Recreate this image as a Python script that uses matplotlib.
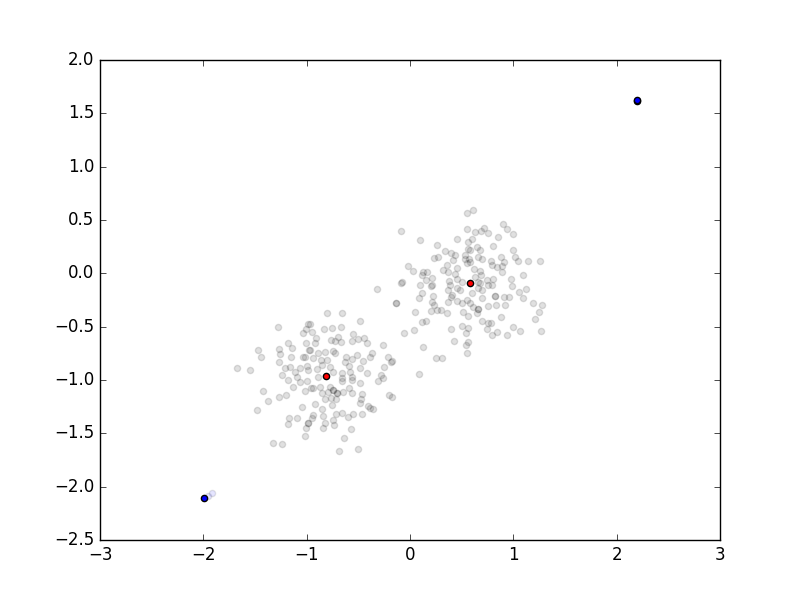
import matplotlib
matplotlib.use('Agg')
import matplotlib.pyplot as plt
import numpy as np

# cluster points (x, y)
cluster_a_x = [
    -1.275, -0.984, -1.006, -1.033, -0.946, -1.178, -1.009, -1.468, -1.265, -1.145,
    -1.442, -1.258, -1.155, -1.038, -0.977, -1.268, -1.671, -1.548, -1.161, -1.000,
    -1.210, -1.065, -1.113, -1.236, -1.096, -0.984,
    -0.135, -0.800, -0.655, -0.484, -0.968, -0.829, -0.752, -0.668, -0.913, -0.919,
    -0.549, -0.694, -0.767, -0.726, -0.671, -0.564, -0.506, -0.442, -0.419, -0.264,
    -0.968, -0.887, -0.823, -0.742, -0.726, -0.622, -0.516, -0.371, -0.387, -0.936,
    -0.864, -0.807, -0.629, -0.558, -0.452, -0.210, -0.187, -0.849, -0.774, -0.587,
    -0.484, -0.252, -0.897, -0.742, -0.661, -0.581, -0.419, -0.284, -0.887, -0.655,
    -0.564,
    -1.426, -1.371, -1.265, -1.200, -1.478, -1.178, -1.129, -1.065, -1.000, -1.016,
    -0.958, -1.042, -1.168, -1.091, -1.178, -0.984, -1.006, -0.936, -1.016, -1.329,
    -1.236,
    -0.661, -0.564, -0.484, -0.307, -0.258, -0.936, -0.871, -0.774, -0.855, -0.790,
    -0.748, -0.710, -0.645, -0.587, -0.564, -0.468, -0.823, -0.767, -0.716, -0.477,
    -0.203, -0.177, -0.752, -0.919, -0.484, -0.404, -0.387, -0.355, -0.855, -0.839,
    -0.716, -0.661, -0.597, -0.548, -0.468, -0.951, -0.742, -0.823, -0.735, -0.839,
    -0.571, -0.636, -0.684, -0.506, -0.320, -0.748, -0.710, -1.016, -0.984,
]
cluster_a_y = [
    -0.506, -0.478, -0.522, -0.562, -0.547, -0.656, -0.656, -0.722, -0.712, -0.703,
    -0.782, -0.757, -0.782, -0.788, -0.719, -0.832, -0.891, -0.906, -0.876, -0.869,
    -0.891, -0.891, -0.923, -0.953, -0.969, -0.906,
    -0.281, -0.375, -0.375, -0.447, -0.475, -0.525, -0.516, -0.503, -0.609, -0.650,
    -0.569, -0.594, -0.625, -0.632, -0.641, -0.635, -0.616, -0.609, -0.650, -0.672,
    -0.719, -0.750, -0.741, -0.726, -0.750, -0.782, -0.766, -0.744, -0.788, -0.797,
    -0.813, -0.813, -0.829, -0.806, -0.819, -0.788, -0.829, -0.860, -0.876, -0.869,
    -0.891, -0.876, -0.897, -0.923, -0.938, -0.923, -0.932, -0.953, -0.975, -0.984,
    -0.975,
    -1.100, -1.194, -1.157, -1.141, -1.282, -1.000, -1.069, -1.016, -1.010, -1.103,
    -1.072, -1.250, -1.360, -1.360, -1.410, -1.406, -1.447, -1.328, -1.522, -1.594,
    -1.603,
    -1.010, -1.000, -1.031, -1.010, -0.979, -1.072, -1.069, -1.063, -1.125, -1.110,
    -1.094, -1.125, -1.110, -1.072, -1.125, -1.132, -1.178, -1.166, -1.178, -1.178,
    -1.141, -1.157, -1.235, -1.228, -1.219, -1.241, -1.266, -1.275, -1.275, -1.335,
    -1.319, -1.313, -1.344, -1.322, -1.322, -1.360, -1.375, -1.406, -1.422, -1.453,
    -1.460, -1.547, -1.666, -1.647, -0.150, -1.094, -1.125, -0.788, -1.406,
]

cluster_b_x = [
    0.549, -0.087, 0.097, 0.264, 0.452, 0.555, 0.339, 0.397, 0.435, 0.419,
    0.232, 0.274, 0.532, 0.564, -0.016, 0.026, 0.129, 0.161, 0.316, 0.355,
    0.371, 0.458, 0.549, 0.113, 0.210, 0.155, -0.075, 0.381, 0.435, 0.458,
    0.500, 0.097, 0.210,
    0.613, 0.903, 0.935, 1.000, 0.719, 0.629, 0.687, 0.752, 0.855, 0.564,
    0.603, 0.806, 0.645, 0.677, 0.581, 0.532, 0.571, 0.581, 0.661, 0.700,
    0.784, 0.881, 0.913, 0.994, 1.016, 1.042, 1.145, 1.255, 0.797, 0.839,
    0.893, 0.622, 0.677, 0.893, 1.097, 0.629, 0.687, 0.742, 0.806, 0.977,
    0.661,
    0.203, 0.113, 0.226, 0.090, -0.135, 0.048, 0.210, 0.235, 0.203, 0.258,
    0.300, 0.361, 0.113, 0.152, -0.055, 0.042, 0.397, 0.500, 0.129, 0.426,
    0.542, 0.564, 0.542, -0.177, 0.248, 0.306, 0.387, 0.452, 0.371, 0.403,
    0.484, 0.371, 0.452, 0.500, 0.397, 0.510, 0.564, 0.555, 0.087, -0.085,
    0.677, 0.752, 0.790, 0.984, 0.661, 0.603, 0.694, 0.823, 0.913, 0.961,
    1.055, 1.123, 1.097, 0.700, 0.549, 0.581, 0.613, 0.661, 0.758, 0.829,
    0.919, 1.193, 1.281, 1.248, 0.645, 0.881, 1.210, 0.700, 0.752, 0.784,
    0.564, 0.742, 1.000, 1.065, 1.268, 0.845, 0.797, 0.935, 0.823, 0.661,
]
cluster_b_y = [
    0.562, 0.397, 0.312, 0.265, 0.319, 0.412, 0.209, 0.187, 0.172, 0.125,
    0.141, 0.150, 0.134, 0.225, 0.068, 0.022, 0.015, 0.015, 0.031, 0.078,
    0.015, 0.047, 0.094, -0.016, -0.047, -0.063, -0.079, -0.072, -0.007, -0.056,
    -0.079, -0.110, -0.110,
    0.593, 0.462, 0.412, 0.366, 0.422, 0.390, 0.400, 0.375, 0.337, 0.296,
    0.319, 0.256, 0.244, 0.218, 0.218, 0.172, 0.131, 0.109, 0.156, 0.131,
    0.118, 0.150, 0.109, 0.218, 0.156, 0.118, 0.115, 0.115, 0.078, 0.056,
    0.068, 0.040, 0.024, 0.015, -0.016, -0.032, -0.016, -0.063, -0.053, -0.056,
    -0.079,
    -0.119, -0.182, -0.213, -0.234, -0.281, -0.360, -0.266, -0.297, -0.350, -0.344,
    -0.344, -0.375, -0.453, -0.444, -0.562, -0.531, -0.525, -0.494, -0.694, -0.635,
    -0.562, -0.641, -0.672, -0.822, -0.797, -0.797, -0.110, -0.141, -0.156, -0.203,
    -0.156, -0.266, -0.256, -0.281, -0.219, -0.366, -0.400, -0.750, -0.945, -0.088,
    -0.088, -0.110, -0.110, -0.119, -0.141, -0.188, -0.156, -0.213, -0.225, -0.225,
    -0.172, -0.150, -0.234, -0.234, -0.250, -0.276, -0.313, -0.338, -0.307, -0.297,
    -0.297, -0.276, -0.297, -0.360, -0.375, -0.413, -0.431, -0.447, -0.463, -0.463,
    -0.516, -0.525, -0.506, -0.541, -0.541, -0.553, -0.578, -0.578, -0.213, -0.338,
]

# current centroids (red) and the far-off starting ones (blue)
centroid_x = [-0.813, 0.581]
centroid_y = [-0.963, -0.091]
start_x = [-1.994, 2.197, 2.199]
start_y = [-2.107, 1.615, 1.628]
trail_x = [-1.916, -1.955]
trail_y = [-2.060, -2.085]

plt.style.use('classic')
fig = plt.figure(figsize=(8, 6), dpi=100)
ax = fig.add_subplot(111)

ax.scatter(cluster_a_x + cluster_b_x, cluster_a_y + cluster_b_y, c='k', alpha=0.12, s=20)
ax.scatter(trail_x, trail_y, c='b', alpha=0.1, s=20)
ax.scatter(start_x, start_y, c='b', s=20)
ax.scatter(centroid_x, centroid_y, c='r', s=20)

ax.set_xlim(-3, 3)
ax.set_ylim(-2.5, 2.0)

fig.savefig('out.png', dpi=100)
